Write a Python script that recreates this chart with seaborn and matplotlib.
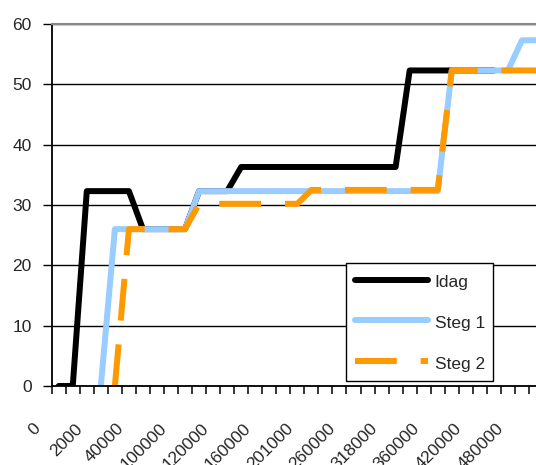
import numpy as np
import pandas as pd
import matplotlib
matplotlib.use('Agg')
import matplotlib.pyplot as plt
import matplotlib.transforms as mtransforms
import seaborn as sns

nan = np.nan

# x-axis labels shown every third category
tick_labels = ['0', '2000', '40000', '100000', '120000', '160000',
               '201000', '260000', '318000', '360000', '420000', '480000']

idag = [0, 0, 32.3, 32.3, 32.3, 32.3, 26, 26, 26, 26,
        32.3, 32.3, 32.3, 36.3, 36.3, 36.3, 36.3, 36.3, 36.3, 36.3,
        36.3, 36.3, 36.3, 36.3, 36.3, 52.3, 52.3, 52.3, 52.3, 52.3,
        52.3, 52.3, nan, nan, nan]
steg1 = [nan, nan, nan, 0, 26, 26, 26, 26, 26, 26,
         32.3, 32.3, 32.3, 32.3, 32.3, 32.3, 32.3, 32.3, 32.3, 32.3,
         32.3, 32.3, 32.3, 32.3, 32.3, 32.3, 32.3, 32.3, 52.3, 52.3,
         52.3, 52.3, 52.3, 57.3, 57.3]
steg2 = [nan, nan, nan, nan, 0, 26, 26, 26, 26, 26,
         30.2, 30.2, 30.2, 30.2, 30.2, 30.2, 30.2, 30.2, 32.5, 32.5,
         32.5, 32.5, 32.5, 32.5, 32.5, 32.5, 32.5, 32.5, 52.3, 52.3,
         52.3, 52.3, 52.3, 52.3, 52.3]

series = {'Idag': idag, 'Steg 1': steg1, 'Steg 2': steg2}
colors = {'Idag': '#000000', 'Steg 1': '#99CCFF', 'Steg 2': '#FF9900'}
dashes = {'Idag': '', 'Steg 1': '', 'Steg 2': (7, 4)}

frames = []
for name, vals in series.items():
    frames.append(pd.DataFrame({'pos': np.arange(len(vals)), 'value': vals, 'serie': name}))
df = pd.concat(frames).dropna()

sns.set_style('white')
plt.rcParams['font.family'] = ['Liberation Sans', 'DejaVu Sans']

fig = plt.figure(figsize=(5.36, 4.65), dpi=100)
ax = fig.add_axes([51.7 / 536, 1 - 386 / 465, (536 - 51.7) / 536, 362 / 465])

sns.lineplot(data=df, x='pos', y='value', hue='serie', style='serie',
             hue_order=list(series), style_order=list(series),
             palette=colors, dashes=dashes, linewidth=4.3, legend=False, ax=ax)

ax.set_xlim(-0.5, 34)
ax.set_ylim(0, 60)
ax.set_xlabel('')
ax.set_ylabel('')

ax.set_yticks(range(0, 61, 10))
ax.yaxis.grid(True, color='black', linewidth=1)
ax.xaxis.grid(False)
ax.tick_params(axis='y', direction='out', length=6.5, width=1, color='black',
               labelsize=12.5, pad=8, left=True)

ax.set_xticks(np.arange(0, 34, 3))
ax.set_xticklabels(tick_labels, rotation=45, ha='right', va='center',
                   rotation_mode='anchor')
ax.set_xticks(np.arange(-0.5, 34, 1), minor=True)
ax.tick_params(axis='x', which='major', length=0, labelsize=12.5, pad=29)
ax.tick_params(axis='x', which='minor', direction='out', length=5.5, width=1.1,
               color='black', bottom=True)
offset = mtransforms.ScaledTranslation(-0.21, 0, fig.dpi_scale_trans)
for lab in ax.get_xticklabels():
    lab.set_transform(lab.get_transform() + offset)

for side in ['left', 'bottom']:
    ax.spines[side].set_color('black')
    ax.spines[side].set_linewidth(1.3)
ax.spines['top'].set_color('#888888')
ax.spines['top'].set_linewidth(1.5)
ax.spines['right'].set_visible(False)

leg = ax.legend(ax.lines[:3], list(series), loc='lower left',
                bbox_to_anchor=(0.6077, 0.0138), fontsize=12.5, frameon=True,
                fancybox=False, framealpha=1, edgecolor='black',
                handlelength=4.2, handleheight=1.3, handletextpad=0.4,
                labelspacing=1.25, borderpad=0.5, borderaxespad=0)
leg.get_frame().set_linewidth(1)

fig.savefig('out.png', dpi=100)
